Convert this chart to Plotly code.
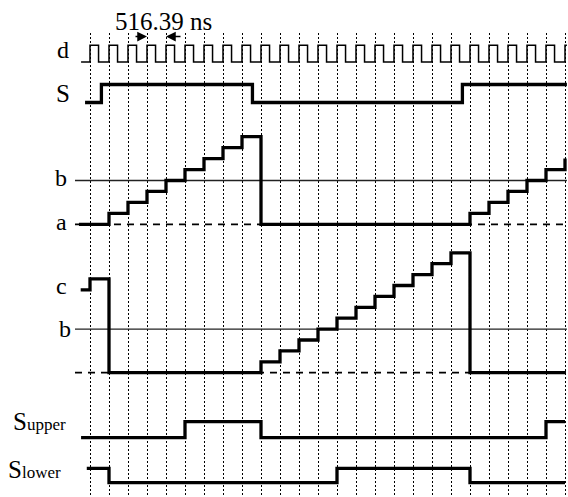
import plotly.graph_objects as go

# ---------------- data (time in clock periods, levels in logic / step units) ----------------
CLOCK_T = [-0.47, 0, 0.45, 1, 1.45, 2, 2.45, 3, 3.45, 4, 4.45, 5, 5.45, 6, 6.45, 7, 7.45,
           8, 8.45, 9, 9.45, 10, 10.45, 11, 11.45, 12, 12.45, 13, 13.45, 14, 14.45,
           15, 15.45, 16, 16.45, 17, 17.45, 18, 18.45, 19, 19.45, 20, 20.45, 21, 21.45,
           22, 22.45, 23, 23.45, 24, 24.45, 25, 25.1]
CLOCK_V = [0, 1, 0, 1, 0, 1, 0, 1, 0, 1, 0, 1, 0, 1, 0, 1, 0,
           1, 0, 1, 0, 1, 0, 1, 0, 1, 0, 1, 0, 1, 0,
           1, 0, 1, 0, 1, 0, 1, 0, 1, 0, 1, 0, 1, 0,
           1, 0, 1, 0, 1, 0, 1, 1]

S_T = [-0.26, 0.6, 8.55, 19.6, 25.1]
S_V = [0, 1, 0, 1, 1]

RAMP1_T = [-0.58, 1, 2, 3, 4, 5, 6, 7, 8, 9, 20, 21, 22, 23, 24, 25]
RAMP1_V = [0, 1, 2, 3, 4, 5, 6, 7, 8, 0, 1, 2, 3, 4, 5, 6]

RAMP2_T = [-0.49, 0, 1, 9, 10, 11, 12, 13, 14, 15, 16, 17, 18, 19, 20, 25.05]
RAMP2_V = [7.6, 8.6, 0, 1, 2, 3, 4, 5, 6, 7, 8, 9, 10, 11, 0, 0]

SUP_T = [-0.47, 5, 9, 24, 25]
SUP_V = [0, 1, 0, 1, 1]

SLO_T = [-0.17, 1, 13, 20, 25]
SLO_V = [1, 0, 1, 0, 0]

LEVEL_A = 0
LEVEL_B = 4
REF_T = [-0.79, 25.1]

GRID_TICKS = list(range(26))
PERIOD_LABEL = "516.39 ns"

# ---------------- layout constants ----------------
W, H = 568, 497
PLOT_TOP = 33
PX0, PX_PER = 90, 19          # pixel of t=0, pixels per clock period
TRACKS = {                    # baseline pixel for level 0, pixels per level unit
    "d": (62, 16.8),
    "S": (102.5, 18),
    "r1": (224.3, 10.95),
    "r2": (372.7, 10.9),
    "su": (437.7, 16),
    "sl": (482.7, 14.4),
}
FONT = "Liberation Serif, Times New Roman, serif"


def ty(track, vals):
    base, unit = TRACKS[track]
    return [base - unit * v for v in vals]


def paper_x(p):
    return p / W


def paper_y(p):
    return 1 - p / H


fig = go.Figure()


def add_line(t, y, width, dash="solid", color="black", shape="hv"):
    fig.add_trace(go.Scatter(x=t, y=y, mode="lines",
                             line=dict(color=color, width=width, dash=dash, shape=shape),
                             hoverinfo="skip", showlegend=False))


# reference levels
add_line(REF_T, ty("r1", [LEVEL_B, LEVEL_B]), 1.4, color="#222")
add_line(REF_T, ty("r1", [LEVEL_A, LEVEL_A]), 1.8, dash="7px,6px")
add_line(REF_T, ty("r2", [LEVEL_B, LEVEL_B]), 1.4, color="#222")
add_line(REF_T, ty("r2", [LEVEL_A, LEVEL_A]), 1.8, dash="7px,6px")

# signals
add_line(CLOCK_T, ty("d", CLOCK_V), 1.5)
add_line(S_T, ty("S", S_V), 3.3)
add_line(RAMP1_T, ty("r1", RAMP1_V), 3.3)
add_line(RAMP2_T, ty("r2", RAMP2_V), 3.3)
add_line(SUP_T, ty("su", SUP_V), 3.3)
add_line(SLO_T, ty("sl", SLO_V), 3.3)

annotations = []


def label(text, right_px, center_py, size=24):
    annotations.append(dict(text=text, x=paper_x(right_px), y=paper_y(center_py),
                            xref="paper", yref="paper", xanchor="right", yanchor="middle",
                            showarrow=False, font=dict(family=FONT, size=size, color="black")))


label("d", 71, 49.8)
label("S", 72, 93.3, 25)
label("b", 69, 177.6)
label("a", 69, 222)
label("c", 69, 286)
label("b", 73, 328.6)
label('S<span style="font-size:17px">upper</span>', 68, 421, 25)
label('S<span style="font-size:17px">lower</span>', 63, 469, 25)

annotations.append(dict(text=PERIOD_LABEL, x=paper_x(163), y=paper_y(22), xref="paper", yref="paper",
                        xanchor="center", yanchor="middle", showarrow=False,
                        font=dict(family=FONT, size=25, color="black")))


def tpx(t):
    return PX0 + PX_PER * t


# period arrows between grid lines 3 and 4
for head_t, tail_dx in ((3, -13), (4, 16)):
    annotations.append(dict(text="", x=paper_x(tpx(head_t)), y=paper_y(36.5), xref="paper", yref="paper",
                            showarrow=True, arrowhead=2, arrowsize=1.3, arrowwidth=1.5,
                            arrowcolor="black", ax=tail_dx, ay=0, standoff=0))

fig.update_layout(
    width=W, height=H,
    margin=dict(l=0, r=0, t=0, b=0, autoexpand=False),
    paper_bgcolor="white", plot_bgcolor="white",
    annotations=annotations,
    xaxis=dict(range=[(0 - PX0) / PX_PER, (W - PX0) / PX_PER], tickmode="array", tickvals=GRID_TICKS,
               showticklabels=False, ticks="", showgrid=True, gridcolor="black", gridwidth=1,
               griddash="2px,2px", zeroline=False, showline=False, fixedrange=True),
    yaxis=dict(range=[H, PLOT_TOP], domain=[0, 1 - PLOT_TOP / H], showgrid=False, zeroline=False,
               showticklabels=False, ticks="", showline=False, fixedrange=True),
    showlegend=False,
)

fig.write_html("out.html", config={"displayModeBar": False},
               post_script="document.body.style.margin='0';document.body.style.padding='0';"
                           "document.body.style.overflow='hidden';")
